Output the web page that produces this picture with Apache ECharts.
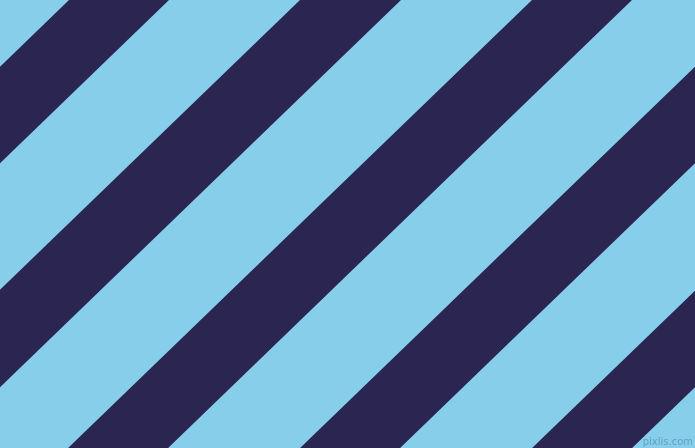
<!DOCTYPE html>
<html>
<head>
<meta charset="utf-8">
<script src="https://cdn.jsdelivr.net/npm/echarts@6/dist/echarts.min.js"></script>
<style>
  html, body { margin: 0; padding: 0; background: #87ceeb; }
  #chart { width: 695px; height: 448px; }
</style>
</head>
<body>
<div id="chart"></div>
<script>
// stripe edges, read where each dark band crosses the top edge (x at y = 0)
const darkStart = [69, 300, 532, 764, 996];
const darkEnd = [169, 401, 632, 864, 1096];
const stripeAngle = 44; // degrees from horizontal
const lightColor = '#87ceeb';
const darkColor = '#2b2551';

function renderStripes() {
  const dom = document.getElementById('chart');
  const chart = echarts.init(dom);
  const slope = Math.tan(stripeAngle * Math.PI / 180);
  const W = 695, H = 448;

  const option = {
    animation: false,
    backgroundColor: lightColor,
    title: {
      text: 'pixlis.com',
      right: 2,
      bottom: 1,
      padding: 0,
      textStyle: {
        fontSize: 10,
        fontWeight: 'normal',
        fontFamily: 'DejaVu Sans',
        color: 'rgba(70,120,165,0.55)'
      }
    },
    grid: {left: 0, right: 0, top: 0, bottom: 0},
    xAxis: {
      type: 'value', min: 0, max: W,
      show: false
    },
    yAxis: {
      type: 'value', min: 0, max: H, inverse: true,
      show: false
    },
    series: [{
      type: 'custom',
      clip: true,
      data: darkStart.map(function(s, i) { return [s, darkEnd[i]]; }),
      renderItem: function(params, api) {
        const a = api.value(0), b = api.value(1);
        const shift = H / slope;
        const pts = [
          api.coord([a, 0]),
          api.coord([b, 0]),
          api.coord([b - shift, H]),
          api.coord([a - shift, H])
        ];
        return {
          type: 'polygon',
          shape: {points: pts},
          style: {fill: darkColor}
        };
      }
    }]
  };
  chart.setOption(option, true);
}

renderStripes();
</script>
</body>
</html>
